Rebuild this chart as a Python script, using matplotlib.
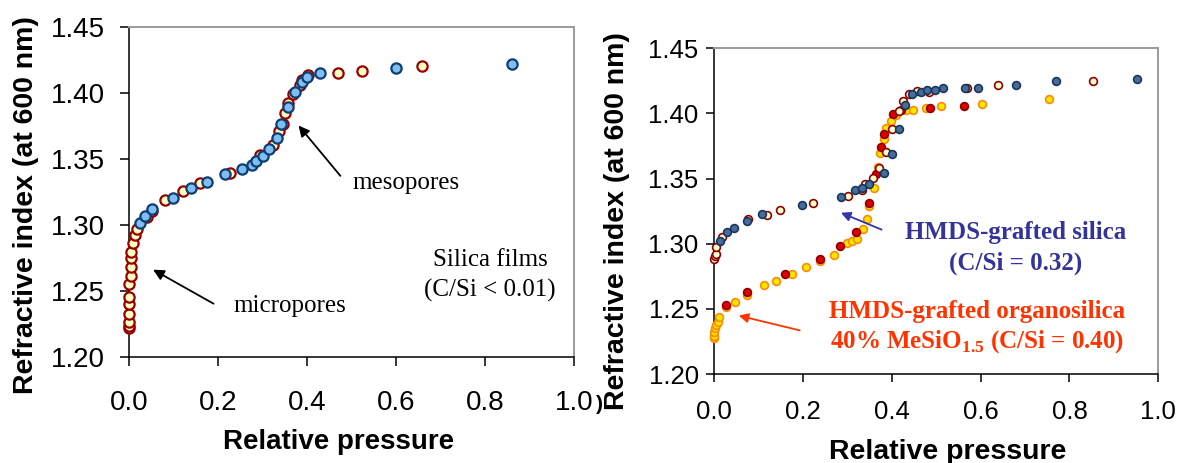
import matplotlib
matplotlib.use("Agg")
import matplotlib.pyplot as plt

plt.rcParams['font.family'] = ['Liberation Sans', 'DejaVu Sans']
plt.rcParams['mathtext.fontset'] = 'custom'
plt.rcParams['mathtext.rm'] = 'Liberation Serif:bold'
plt.rcParams['mathtext.bf'] = 'Liberation Serif:bold'

# ---------------- Left panel data: silica films ----------------
left_ads_x = [0.0, 0.0, 0.0, 0.0, 0.0, 0.0, 0.0, 0.0045, 0.0045, 0.004, 0.004, 0.008,
              0.0135, 0.019, 0.040, 0.051, 0.081, 0.122, 0.160, 0.227, 0.294, 0.324,
              0.336, 0.345, 0.351, 0.358, 0.369, 0.384, 0.388, 0.403, 0.470, 0.523, 0.658]
left_ads_y = [1.2223, 1.2235, 1.2268, 1.2331, 1.2401, 1.2456, 1.2556, 1.2612, 1.2682,
              1.2752, 1.2800, 1.2867, 1.2925, 1.2967, 1.3058, 1.3110, 1.3190, 1.3260,
              1.3316, 1.3396, 1.3530, 1.3605, 1.3714, 1.3764, 1.3850, 1.3920, 1.3990,
              1.4060, 1.4100, 1.4135, 1.4150, 1.4167, 1.4203]
left_des_x = [0.025, 0.036, 0.051, 0.098, 0.139, 0.176, 0.216, 0.253, 0.276, 0.285,
              0.300, 0.315, 0.332, 0.342, 0.358, 0.373, 0.388, 0.399, 0.429, 0.601, 0.861]
left_des_y = [1.3018, 1.3069, 1.3121, 1.3207, 1.3278, 1.3328, 1.3384, 1.3421, 1.3454,
              1.3487, 1.3522, 1.3575, 1.3660, 1.3764, 1.3890, 1.4009, 1.4084, 1.4117,
              1.4152, 1.4185, 1.4220]

# ---------------- Right panel data: HMDS-grafted films ----------------
sil_ads_x = [0.0, 0.002, 0.0045, 0.0045, 0.017, 0.077, 0.119, 0.149, 0.222, 0.302,
             0.334, 0.339, 0.357, 0.371, 0.387, 0.401, 0.416, 0.426, 0.439, 0.456,
             0.484, 0.570, 0.640, 0.854]
sil_ads_y = [1.2884, 1.2904, 1.2922, 1.2974, 1.3053, 1.3187, 1.3220, 1.3259, 1.3310,
             1.3369, 1.3410, 1.3459, 1.3507, 1.3579, 1.3707, 1.3878, 1.4019, 1.4098,
             1.4150, 1.4172, 1.4167, 1.4198, 1.4218, 1.4249]
sil_des_x = [0.0135, 0.0285, 0.045, 0.0736, 0.109, 0.197, 0.286, 0.3176, 0.3326, 0.348,
             0.383, 0.401, 0.416, 0.431, 0.446, 0.465, 0.480, 0.497, 0.516, 0.5646,
             0.595, 0.679, 0.769, 0.953]
sil_des_y = [1.3020, 1.3089, 1.3122, 1.3174, 1.3225, 1.3295, 1.3361, 1.3410, 1.3431,
             1.3462, 1.3546, 1.3689, 1.3881, 1.4065, 1.4147, 1.4165, 1.4180, 1.4180,
             1.4198, 1.4198, 1.4198, 1.4216, 1.4249, 1.4265]
org_red_x = [0.027, 0.075, 0.160, 0.2395, 0.2838, 0.319, 0.349, 0.3656, 0.376, 0.3836,
             0.404, 0.420, 0.4865, 0.5616]
org_red_y = [1.2532, 1.2629, 1.2771, 1.2884, 1.2986, 1.3092, 1.3310, 1.3535, 1.3740,
             1.3840, 1.3996, 1.4027, 1.4040, 1.4057]
org_yel_x = [0.0, 0.0, 0.0, 0.002, 0.005, 0.008, 0.012, 0.027, 0.0473, 0.075, 0.1126,
             0.1396, 0.176, 0.207, 0.2395, 0.270, 0.2988, 0.310, 0.321, 0.335, 0.3446,
             0.349, 0.360, 0.368, 0.373, 0.382, 0.388, 0.398, 0.4107, 0.433, 0.448,
             0.477, 0.512, 0.604, 0.754]
org_yel_y = [1.2275, 1.2295, 1.2320, 1.2350, 1.2375, 1.2400, 1.2435, 1.2515, 1.2550,
             1.2610, 1.2680, 1.2717, 1.2771, 1.2820, 1.2866, 1.2917, 1.3002, 1.3020,
             1.3038, 1.3110, 1.3187, 1.3290, 1.3426, 1.3592, 1.3700, 1.3800, 1.3886,
             1.3945, 1.3988, 1.4027, 1.4027, 1.4040, 1.4057, 1.4073, 1.4108]

x_ticks = [0.0, 0.2, 0.4, 0.6, 0.8, 1.0]
y_ticks = [1.20, 1.25, 1.30, 1.35, 1.40, 1.45]
x_label = "Relative pressure"
y_label = "Refractive index (at 600 nm)"

fig = plt.figure(figsize=(11.8, 4.63), dpi=100)
W, H = 1180.0, 463.0


def axes_px(l, r, t, b):
    return fig.add_axes([l / W, 1 - b / H, (r - l) / W, (b - t) / H])


def style(ax, fs, ticklen, ypad, xpad):
    ax.set_xlim(0, 1.0)
    ax.set_ylim(1.20, 1.45)
    ax.set_xticks(x_ticks)
    ax.set_yticks(y_ticks)
    ax.set_xticklabels([f"{v:.1f}" for v in x_ticks])
    ax.set_yticklabels([f"{v:.2f}" for v in y_ticks])
    for s in ['left', 'bottom']:
        ax.spines[s].set_color('black')
        ax.spines[s].set_linewidth(1.1)
    for s in ['top', 'right']:
        ax.spines[s].set_color('#9a9a9a')
        ax.spines[s].set_linewidth(1.4)
    ax.tick_params(axis='both', direction='out', length=ticklen, width=1.1,
                   labelsize=fs, colors='black')
    ax.tick_params(axis='y', pad=ypad)
    ax.tick_params(axis='x', pad=xpad)
    ax.set_facecolor('white')


serif = ['Liberation Serif', 'DejaVu Serif']

# ---------------- Left axes ----------------
axL = axes_px(129, 574, 26.7, 357.3)
style(axL, 20, 6.5, 11, 17)
axL.plot(left_ads_x, left_ads_y, 'o', ms=7.4, mfc='#ffffc4', mec='#990000', mew=1.6,
         linestyle='none', clip_on=False, zorder=3)
axL.plot(left_des_x, left_des_y, 'o', ms=7.4, mfc='#80bdf0', mec='#0d3f72', mew=1.6,
         linestyle='none', clip_on=False, zorder=4)
axL.annotate("", xy=(0.377, 1.3769), xytext=(0.479, 1.3356),
             arrowprops=dict(arrowstyle='-|>', color='black', lw=1.3, mutation_scale=16))
axL.annotate("", xy=(0.0487, 1.2673), xytext=(0.1955, 1.2395),
             arrowprops=dict(arrowstyle='-|>', color='black', lw=1.3, mutation_scale=16))
axL.text(0.503, 1.3318, "mesopores", family=serif, fontsize=18, ha='left', va='center')
axL.text(0.234, 1.2388, "micropores", family=serif, fontsize=18, ha='left', va='center')
axL.text(0.811, 1.2736, "Silica films", family=serif, fontsize=18, ha='center', va='center')
axL.text(0.811, 1.2509, "(C/Si < 0.01)", family=serif, fontsize=18, ha='center', va='center')
fig.text(339 / W, 1 - 441.7 / H, x_label, fontsize=20, fontweight='bold',
         ha='center', va='center')
fig.text(26 / W, 1 - 205 / H, y_label, fontsize=20.5, fontweight='bold',
         ha='center', va='center', rotation=90)

# ---------------- Right axes ----------------
axR = axes_px(714, 1158.3, 48.3, 374)
style(axR, 18.5, 5.5, 5.5, 13.5)
axR.plot(org_yel_x, org_yel_y, 'o', ms=5.6, mfc='#ffe600', mec='#ff8a00', mew=1.2,
         linestyle='none', clip_on=False, zorder=3)
axR.plot(org_red_x, org_red_y, 'o', ms=5.6, mfc='#e00000', mec='#8b0000', mew=1.2,
         linestyle='none', clip_on=False, zorder=4)
axR.plot(sil_ads_x, sil_ads_y, 'o', ms=5.6, mfc='#ffffcc', mec='#8b0000', mew=1.2,
         linestyle='none', clip_on=False, zorder=5)
axR.plot(sil_des_x, sil_des_y, 'o', ms=5.6, mfc='#4a6a98', mec='#17375e', mew=1.2,
         linestyle='none', clip_on=False, zorder=6)
axR.annotate("", xy=(0.2799, 1.3246), xytext=(0.383, 1.310),
             arrowprops=dict(arrowstyle='-|>', color='#3333aa', lw=1.3, mutation_scale=14))
axR.annotate("", xy=(0.0495, 1.2453), xytext=(0.199, 1.2330),
             arrowprops=dict(arrowstyle='-|>', color='#ff3300', lw=1.3, mutation_scale=14))
blue_txt = '#333399'
orange_txt = '#ff3300'
axR.text(0.680, 1.3085, "HMDS-grafted silica", family=serif, fontsize=18,
         fontweight='bold', color=blue_txt, ha='center', va='center')
axR.text(0.680, 1.2850, "(C/Si = 0.32)", family=serif, fontsize=18,
         fontweight='bold', color=blue_txt, ha='center', va='center')
axR.text(0.5917, 1.2478, "HMDS-grafted organosilica", family=serif, fontsize=18,
         fontweight='bold', color=orange_txt, ha='center', va='center')
axR.text(0.5917, 1.2248, r"40% MeSiO$_{\mathbf{1.5}}$ (C/Si = 0.40)", family=serif,
         fontsize=18, fontweight='bold', color=orange_txt, ha='center', va='center')
fig.text(948 / W, 1 - 451.7 / H, x_label, fontsize=20.5, fontweight='bold',
         ha='center', va='center')
fig.text(617 / W, 1 - 221 / H, y_label, fontsize=20.5, fontweight='bold',
         ha='center', va='center', rotation=90)
fig.text(596 / W, 1 - 404 / H, ")", fontsize=15, fontweight='bold',
         ha='left', va='center')

fig.savefig("out.png", dpi=100, facecolor='white')
